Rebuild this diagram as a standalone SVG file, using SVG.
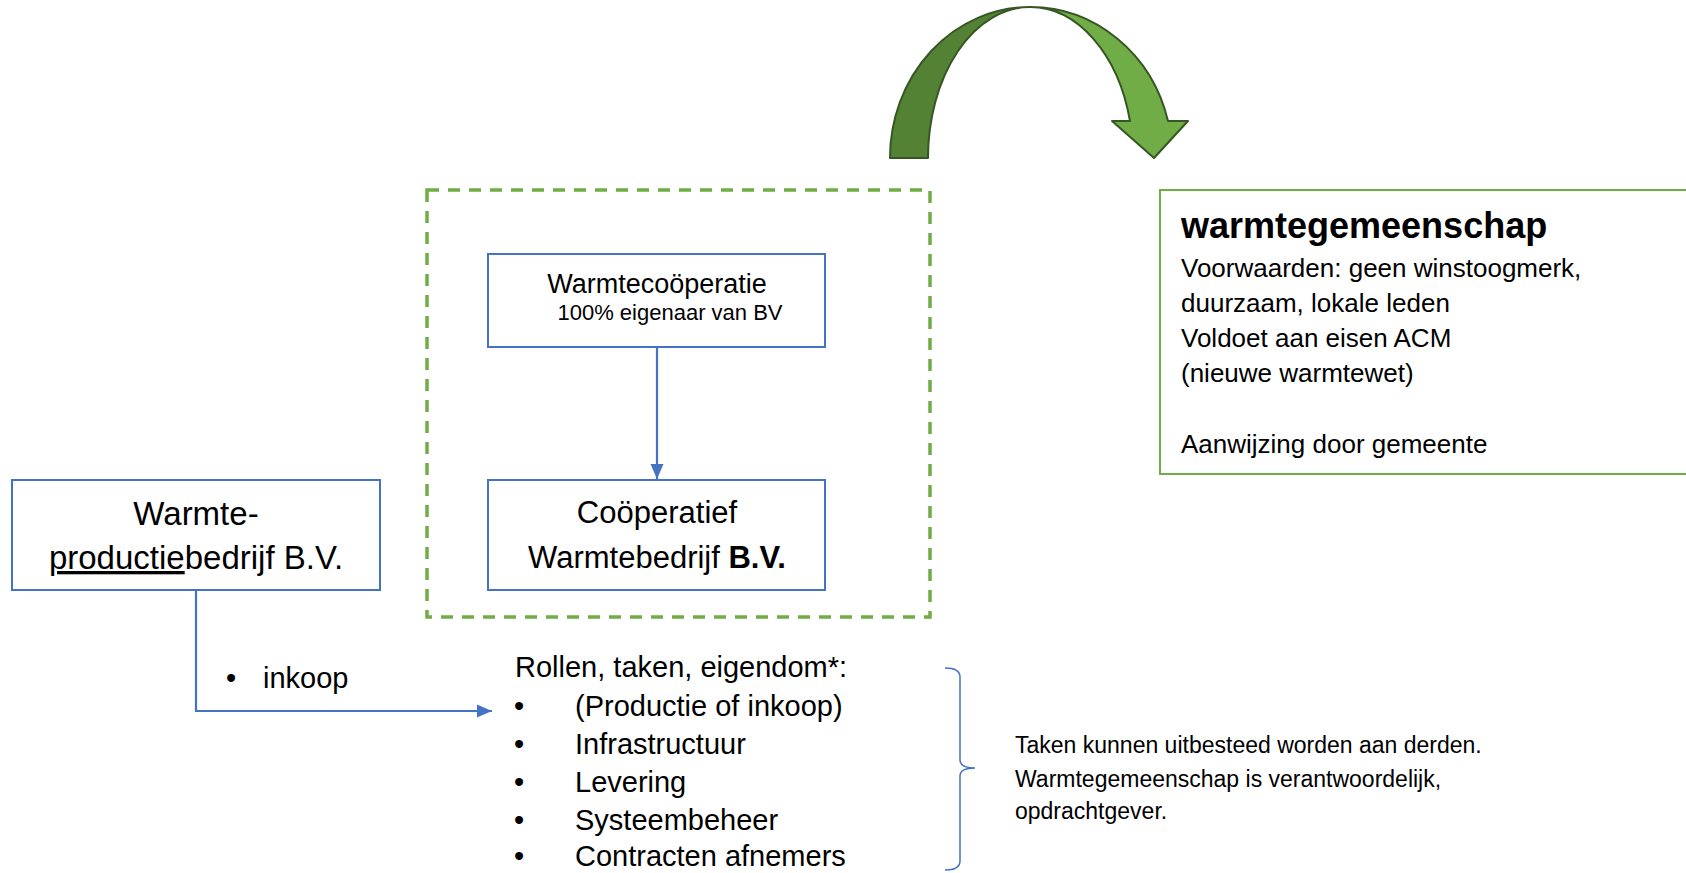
<svg xmlns="http://www.w3.org/2000/svg" width="1686" height="873" viewBox="0 0 1686 873">
<style>
text{font-family:"Liberation Sans",Arial,sans-serif;fill:#000}
.box{fill:#fff;stroke:#4472C4;stroke-width:2}
.conn{fill:none;stroke:#4472C4;stroke-width:2.2}
.t31{font-size:31px}
.t33{font-size:33px}
.t29{font-size:29px}
.t26{font-size:26px}
.t23{font-size:23px}
</style>
<defs>
<marker id="ah" markerUnits="userSpaceOnUse" markerWidth="16" markerHeight="16" viewBox="0 0 16 16" refX="15" refY="8" orient="auto">
<path d="M0,1.5 L15,8 L0,14.5 Z" fill="#4472C4"/>
</marker>
</defs>
<rect width="1686" height="873" fill="#fff"/>

<g id="curved-arrow">
<path d="M1030,7 A142,151 0 0 1 1168,121 L1188,121 L1154,158 L1112,121 L1130,121 A103,151 0 0 0 1030,7 Z" fill="#70AD47" stroke="#375623" stroke-width="2" stroke-linejoin="round"/>
<path d="M890,158 A140,151 0 0 1 1030,7 A102,151 0 0 0 928,158 Z" fill="#548235" stroke="#375623" stroke-width="2" stroke-linejoin="round"/>
</g>

<g id="group-boundary">
<rect x="427" y="190" width="503" height="427" fill="none" stroke="#70AD47" stroke-width="3.5" stroke-dasharray="12,9"/>
</g>

<g id="connectors">
<path class="conn" d="M657,347 L657,479" marker-end="url(#ah)"/>
<path class="conn" d="M196,590 L196,711 L492,711" marker-end="url(#ah)"/>
<path d="M945,668 Q960,668 960,677 L960,760 Q960,768 975,768 Q960,768 960,776 L960,861 Q960,870 945,870" fill="none" stroke="#4472C4" stroke-width="1.5"/>
</g>

<g id="warmtecooperatie">
<rect class="box" x="488" y="254" width="337" height="93"/>
<text x="657" y="293" text-anchor="middle" font-size="27px">Warmtecoöperatie</text>
<text x="670" y="320" text-anchor="middle" font-size="22px">100% eigenaar van BV</text>
</g>

<g id="warmtebedrijf">
<rect class="box" x="488" y="480" width="337" height="110"/>
<text class="t31" x="657" y="523" text-anchor="middle">Coöperatief</text>
<text class="t31" x="657" y="568" text-anchor="middle">Warmtebedrijf <tspan font-weight="bold">B.V.</tspan></text>
</g>

<g id="productiebedrijf">
<rect class="box" x="12" y="480" width="368" height="110"/>
<text class="t33" x="196" y="525" text-anchor="middle">Warmte-</text>
<text class="t33" x="196" y="569" text-anchor="middle"><tspan text-decoration="underline">productie</tspan>bedrijf B.V.</text>
</g>

<g id="inkoop-label">
<text class="t29" x="226" y="688">•</text>
<text class="t29" x="263" y="688">inkoop</text>
</g>

<g id="rollen">
<text class="t29" x="515" y="677">Rollen, taken, eigendom*:</text>
<text class="t29" x="514" y="716">•</text>
<text class="t29" x="575" y="716">(Productie of inkoop)</text>
<text class="t29" x="514" y="754">•</text>
<text class="t29" x="575" y="754">Infrastructuur</text>
<text class="t29" x="514" y="792">•</text>
<text class="t29" x="575" y="792">Levering</text>
<text class="t29" x="514" y="830">•</text>
<text class="t29" x="575" y="830">Systeembeheer</text>
<text class="t29" x="514" y="866">•</text>
<text class="t29" x="575" y="866">Contracten afnemers</text>
</g>

<g id="taken-note">
<text class="t23" x="1015" y="753">Taken kunnen uitbesteed worden aan derden.</text>
<text class="t23" x="1015" y="787">Warmtegemeenschap is verantwoordelijk,</text>
<text class="t23" x="1015" y="819">opdrachtgever.</text>
</g>

<g id="warmtegemeenschap">
<rect x="1160" y="190" width="540" height="284" fill="#fff" stroke="#70AD47" stroke-width="2"/>
<text x="1181" y="238" font-size="36px" font-weight="bold">warmtegemeenschap</text>
<text class="t26" x="1181" y="277">Voorwaarden: geen winstoogmerk,</text>
<text class="t26" x="1181" y="312">duurzaam, lokale leden</text>
<text class="t26" x="1181" y="347">Voldoet aan eisen ACM</text>
<text class="t26" x="1181" y="382">(nieuwe warmtewet)</text>
<text class="t26" x="1181" y="453">Aanwijzing door gemeente</text>
</g>
</svg>
